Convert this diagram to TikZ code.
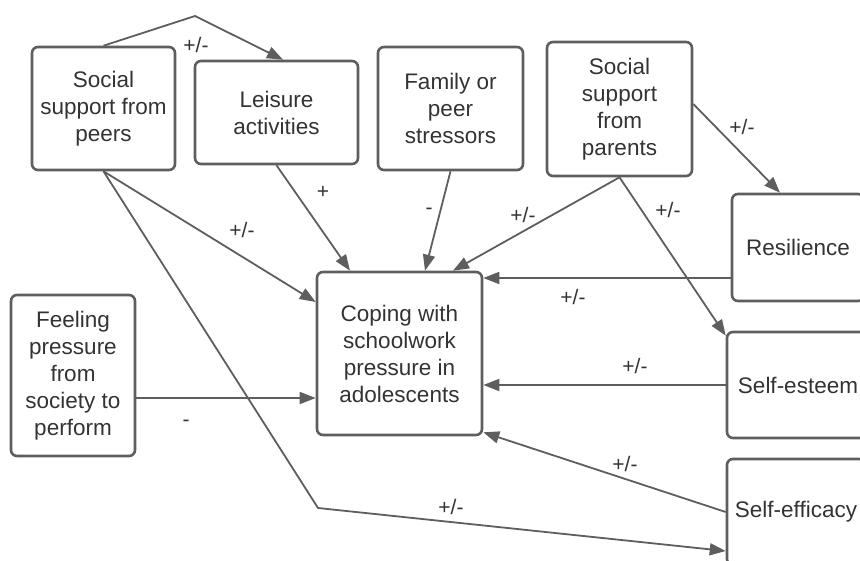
\documentclass[tikz,border=0pt]{standalone}
\usepackage{fontspec}
\setmainfont{Liberation Sans}
\usetikzlibrary{arrows.meta}
\definecolor{edgegray}{RGB}{94,94,94}
\definecolor{textgray}{RGB}{51,51,51}
\tikzset{
  factor/.style={draw=edgegray, line width=2.6pt, rounded corners=6pt, text=textgray,
    align=center, inner sep=0pt, font=\fontsize{22.5}{27}\selectfont},
  link/.style={draw=edgegray, line width=1.8pt, -{Triangle[length=16pt,width=12pt]}},
  sign/.style={text=textgray, inner sep=0pt, font=\fontsize{21}{25}\selectfont},
}
\begin{document}
\begin{tikzpicture}[x=1pt, y=-1pt]
\useasboundingbox (0,0) rectangle (860,560);

% factors
\node[factor, minimum width=143pt, minimum height=123pt] (peers) at (103.5,108.5) {Social\\support from\\peers};
\node[factor, minimum width=163pt, minimum height=103pt] (leisure) at (276.5,112.5) {Leisure\\activities};
\node[factor, minimum width=145pt, minimum height=123pt] (family) at (450.5,108.5) {Family or\\peer\\stressors};
\node[factor, minimum width=145pt, minimum height=134pt] (parents) at (619.5,109) {Social\\support\\from\\parents};
\node[factor, minimum width=132pt, minimum height=107pt] (resilience) at (798,247.5) {Resilience};
\node[factor, minimum width=142pt, minimum height=106pt] (esteem) at (798,385) {Self-esteem};
\node[factor, minimum width=138pt, minimum height=106pt] (efficacy) at (796,512) {Self-efficacy};
\node[factor, minimum width=165pt, minimum height=163pt] (coping) at (399.5,353.5) {Coping with\\schoolwork\\pressure in\\adolescents};
\node[factor, minimum width=124pt, minimum height=161pt] (feeling) at (73,375.5) {Feeling\\pressure\\from\\society to\\perform};

\coordinate (apex) at (195,16);
\coordinate (bend) at (318,508);

% links
\draw[link] (peers.north) -- (apex) -- ([xshift=6.5pt]leisure.north);
\draw[link] (peers.south) -- ([yshift=51.5pt]coping.west);
\draw[link] (peers.south) -- (bend) -- ([yshift=-39pt]efficacy.west);
\draw[link] (leisure.south) -- ([xshift=-49.5pt]coping.north);
\draw[link] (family.south) -- ([xshift=25.5pt]coping.north);
\draw[link] (parents.south) -- ([xshift=53.5pt]coping.north);
\draw[link] (parents.south) -- ([yshift=-5pt]esteem.north west);
\draw[link] ([yshift=5pt]parents.east) -- ([xshift=-18pt]resilience.north);
\draw[link] ([yshift=-30.5pt]resilience.west) -- ([yshift=-30.5pt]resilience.west -| coping.east);
\draw[link] (esteem.west) -- (esteem.west -| coping.east);
\draw[link] (efficacy.west) -- ([yshift=4pt]coping.south east);
\draw[link] ([yshift=-22.5pt]feeling.east) -- ([yshift=-22.5pt]feeling.east -| coping.west);

% signs
\node[sign] (s-peers-leisure) at (196,45) {+/-};
\node[sign] (s-peers-coping) at (242,230) {+/-};
\node[sign] (s-leisure) at (323,192) {+};
\node[sign] (s-family) at (429,211) {-};
\node[sign] (s-parents-coping) at (523,215) {+/-};
\node[sign] (s-parents-esteem) at (668,210) {+/-};
\node[sign] (s-parents-resil) at (742,127) {+/-};
\node[sign] (s-resilience) at (573,297) {+/-};
\node[sign] (s-esteem) at (635,366) {+/-};
\node[sign] (s-efficacy) at (625,464) {+/-};
\node[sign] (s-peers-efficacy) at (451,507) {+/-};
\node[sign] (s-feeling) at (186,423) {-};
\end{tikzpicture}
\end{document}
